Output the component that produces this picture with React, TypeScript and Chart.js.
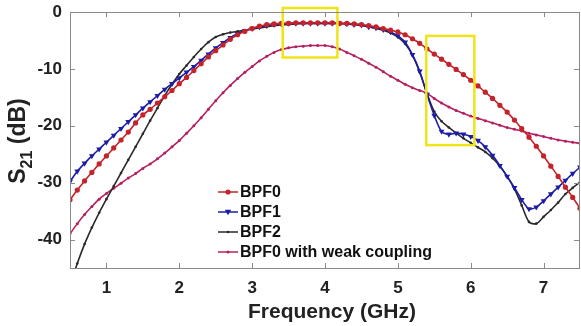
import React, { useEffect, useRef } from "react";
import { Chart, registerables } from "chart.js";
Chart.register(...registerables);

const FREQ = [0.5,0.6,0.7,0.8,0.9,1.0,1.1,1.2,1.3,1.4,1.5,1.6,1.7,1.8,1.9,2.0,2.1,2.2,2.3,2.4,2.5,2.6,2.7,2.8,2.9,3.0,3.1,3.2,3.3,3.4,3.5,3.6,3.7,3.8,3.9,4.0,4.1,4.2,4.3,4.4,4.5,4.6,4.7,4.8,4.9,5.0,5.1,5.2,5.3,5.4,5.5,5.6,5.7,5.8,5.9,6.0,6.1,6.2,6.3,6.4,6.5,6.6,6.7,6.8,6.9,7.0,7.1,7.2,7.3,7.4,7.5];

const BPF0 = [-33.0,-31.3,-29.7,-28.2,-26.7,-25.3,-23.9,-22.5,-21.1,-19.5,-18.1,-17.1,-16.0,-14.9,-13.8,-12.6,-11.5,-10.3,-9.1,-7.9,-6.8,-5.8,-4.8,-4.0,-3.4,-2.9,-2.5,-2.2,-2.1,-2.0,-2.0,-1.9,-1.9,-1.9,-1.9,-1.9,-1.9,-2.0,-2.0,-2.1,-2.2,-2.4,-2.6,-2.9,-3.2,-3.5,-4.0,-4.7,-5.5,-6.5,-7.4,-8.3,-9.2,-10.1,-11.0,-12.0,-13.0,-14.1,-15.2,-16.4,-17.6,-19.0,-20.5,-22.0,-23.6,-25.3,-27.1,-28.9,-30.8,-32.6,-34.5];

const BPF1 = [-29.8,-28.0,-26.6,-25.3,-24.1,-22.9,-21.7,-20.5,-19.3,-18.1,-16.9,-15.8,-14.7,-13.6,-12.6,-11.6,-10.6,-9.6,-8.5,-7.4,-6.3,-5.4,-4.5,-3.8,-3.3,-2.9,-2.6,-2.4,-2.2,-2.1,-2.0,-2.0,-2.0,-2.0,-2.0,-2.0,-2.0,-2.0,-2.1,-2.2,-2.3,-2.6,-2.8,-3.1,-3.5,-4.2,-5.3,-7.5,-10.4,-14.5,-18.2,-21.0,-21.5,-21.3,-21.5,-21.9,-22.6,-23.7,-25.2,-27.0,-28.9,-30.9,-33.0,-34.6,-34.3,-33.2,-32.0,-30.8,-29.6,-28.4,-27.3];

const BPF2 = [-48.0,-44.2,-40.8,-37.9,-35.3,-32.9,-30.6,-28.3,-26.0,-23.7,-21.4,-19.1,-16.9,-14.7,-12.7,-10.9,-9.4,-7.9,-6.5,-5.3,-4.4,-3.9,-3.6,-3.4,-3.2,-3.0,-2.8,-2.6,-2.4,-2.3,-2.2,-2.1,-2.0,-2.0,-2.0,-2.0,-2.0,-2.0,-2.1,-2.2,-2.4,-2.6,-2.9,-3.2,-3.7,-4.4,-5.6,-7.6,-10.6,-14.3,-17.5,-19.2,-20.3,-21.3,-22.2,-23.0,-23.8,-24.6,-25.7,-27.1,-28.9,-31.1,-34.0,-36.9,-37.2,-36.0,-34.8,-33.5,-32.0,-30.9,-29.9];

const BPF0_WEAK = [-39.0,-37.2,-35.6,-34.2,-32.9,-31.9,-31.0,-30.1,-29.2,-28.4,-27.5,-26.7,-25.8,-24.8,-23.7,-22.6,-21.3,-20.0,-18.6,-17.1,-15.6,-14.2,-12.9,-11.7,-10.6,-9.6,-8.6,-7.8,-7.1,-6.6,-6.3,-6.1,-6.0,-5.9,-5.9,-5.9,-6.1,-6.5,-7.1,-7.7,-8.3,-9.0,-9.7,-10.5,-11.3,-12.0,-12.7,-13.3,-13.8,-14.3,-15.2,-16.0,-16.7,-17.3,-17.8,-18.3,-18.7,-19.1,-19.5,-19.9,-20.3,-20.6,-20.9,-21.3,-21.6,-21.9,-22.2,-22.5,-22.7,-22.9,-23.1];

const X_TICKS = [1, 2, 3, 4, 5, 6, 7];
const Y_TICKS = [-40, -30, -20, -10, 0];
const SERIES_LABELS = ["BPF0", "BPF1", "BPF2", "BPF0 with weak coupling"];
const X_TITLE = "Frequency (GHz)";

// highlight boxes in data coordinates
const HIGHLIGHT_F_LEFT = [3.42, 5.39];
const HIGHLIGHT_F_RIGHT = [4.17, 6.05];
const HIGHLIGHT_DB_TOP = [0.7, -4.2];
const HIGHLIGHT_DB_BOTTOM = [-8.0, -23.4];

const FONT_FAMILY = '"Liberation Sans", Arial, sans-serif';
const COLORS = ["#c3232a", "#1c1ca6", "#2a2a2a", "#b42060"];
const POINT_STYLES = ["circle", "triangle", "circle", "circle"];
const POINT_RADII = [2.6, 3.4, 1.3, 1.5];
const POINT_ROT = [0, 180, 0, 0];

const toPoints = (ys: number[]) => FREQ.map((f, i) => ({ x: f, y: ys[i] }));

const framePlugin = {
  id: "frame",
  afterDraw(chart: any) {
    const { ctx, chartArea: a, scales } = chart;
    const xs = scales.x, ys = scales.y;
    ctx.save();
    ctx.strokeStyle = "#f0e418";
    ctx.lineWidth = 2.5;
    for (let i = 0; i < HIGHLIGHT_F_LEFT.length; i++) {
      const x0 = xs.getPixelForValue(HIGHLIGHT_F_LEFT[i]);
      const x1 = xs.getPixelForValue(HIGHLIGHT_F_RIGHT[i]);
      const y0 = ys.getPixelForValue(HIGHLIGHT_DB_TOP[i]);
      const y1 = ys.getPixelForValue(HIGHLIGHT_DB_BOTTOM[i]);
      ctx.strokeRect(x0, y0, x1 - x0, y1 - y0);
    }
    ctx.strokeStyle = "#8a8a8a";
    ctx.lineWidth = 1;
    ctx.strokeRect(Math.round(a.left) + 0.5, Math.round(a.top) + 0.5, Math.round(a.right - a.left) - 1, Math.round(a.bottom - a.top));
    ctx.beginPath();
    const tl = 5;
    X_TICKS.forEach((v) => {
      const x = Math.round(xs.getPixelForValue(v)) + 0.5;
      ctx.moveTo(x, a.bottom); ctx.lineTo(x, a.bottom - tl);
      ctx.moveTo(x, a.top); ctx.lineTo(x, a.top + tl);
    });
    Y_TICKS.forEach((v) => {
      const y = Math.round(ys.getPixelForValue(v)) + 0.5;
      ctx.moveTo(a.left, y); ctx.lineTo(a.left + tl, y);
      ctx.moveTo(a.right - 1, y); ctx.lineTo(a.right - 1 - tl, y);
    });
    ctx.stroke();

    // legend
    const lx0 = 218, lx1 = 238, tx = 240;
    const rowY = [192, 212, 232, 252];
    ctx.font = `bold 16px ${FONT_FAMILY}`;
    ctx.textBaseline = "middle";
    ctx.textAlign = "left";
    SERIES_LABELS.forEach((lab, i) => {
      const y = rowY[i];
      ctx.strokeStyle = COLORS[i];
      ctx.fillStyle = COLORS[i];
      ctx.lineWidth = 1.5;
      ctx.beginPath(); ctx.moveTo(lx0, y); ctx.lineTo(lx1, y); ctx.stroke();
      const cx = (lx0 + lx1) / 2;
      if (POINT_STYLES[i] === "triangle") {
        ctx.beginPath();
        ctx.moveTo(cx - 3.2, y - 2.2); ctx.lineTo(cx + 3.2, y - 2.2); ctx.lineTo(cx, y + 3.2); ctx.closePath(); ctx.fill();
      } else {
        ctx.beginPath(); ctx.arc(cx, y, POINT_RADII[i], 0, Math.PI * 2); ctx.fill();
      }
      ctx.fillStyle = "#111";
      ctx.fillText(lab, tx, y + 1);
    });

    // x title
    ctx.fillStyle = "#222";
    ctx.font = `bold 21px ${FONT_FAMILY}`;
    ctx.textAlign = "center";
    ctx.textBaseline = "alphabetic";
    ctx.fillText(X_TITLE, 332, 318);

    // y title with subscript
    ctx.translate(25, 141);
    ctx.rotate(-Math.PI / 2);
    const big = `bold 23px ${FONT_FAMILY}`;
    const small = `bold 16px ${FONT_FAMILY}`;
    ctx.font = big; const wS = ctx.measureText("S").width;
    ctx.font = small; const w21 = ctx.measureText("21").width;
    ctx.font = big; const wRest = ctx.measureText(" (dB)").width;
    let x = -(wS + w21 + wRest) / 2;
    ctx.textAlign = "left";
    ctx.font = big; ctx.fillText("S", x, 0); x += wS;
    ctx.font = small; ctx.fillText("21", x, 7); x += w21;
    ctx.font = big; ctx.fillText(" (dB)", x, 0);
    ctx.restore();
  },
};

export default function App() {
  const ref = useRef<HTMLCanvasElement>(null);
  useEffect(() => {
    if (!ref.current) return;
    const seriesValues = [BPF0, BPF1, BPF2, BPF0_WEAK];
    const chart = new Chart(ref.current, {
      type: "line",
      data: {
        datasets: seriesValues.map((vals, i) => ({
          label: SERIES_LABELS[i],
          data: toPoints(vals),
          borderColor: COLORS[i],
          backgroundColor: COLORS[i],
          borderWidth: 1.6,
          pointStyle: POINT_STYLES[i] as any,
          pointRadius: POINT_RADII[i],
          pointRotation: POINT_ROT[i],
          pointBorderWidth: 0,
          pointBackgroundColor: COLORS[i],
          tension: 0.3,
          fill: false,
        })),
      },
      options: {
        animation: false,
        responsive: false,
        maintainAspectRatio: false,
        devicePixelRatio: 1,
        layout: { padding: { left: 0, right: 1, top: 12, bottom: 0 } },
        plugins: { legend: { display: false }, tooltip: { enabled: false } },
        scales: {
          x: {
            type: "linear",
            min: 0.5,
            max: 7.5,
            afterBuildTicks: (s: any) => { s.ticks = X_TICKS.map((v) => ({ value: v })); },
            afterFit: (s: any) => { s.height = 58; s.paddingLeft = 0; s.paddingRight = 0; s.paddingTop = 0; s.paddingBottom = 0; },
            grid: { display: false, drawTicks: false },
            border: { display: false },
            ticks: { padding: 10, color: "#222", autoSkip: false, maxRotation: 0, font: { family: FONT_FAMILY, size: 17, weight: "bold" }, callback: (v: any) => String(v) },
          },
          y: {
            type: "linear",
            min: -45,
            max: 0,
            afterBuildTicks: (s: any) => { s.ticks = Y_TICKS.map((v) => ({ value: v })); },
            afterFit: (s: any) => { s.width = 70; s.paddingLeft = 0; s.paddingRight = 0; s.paddingTop = 0; s.paddingBottom = 0; },
            grid: { display: false, drawTicks: false },
            border: { display: false },
            ticks: { padding: 8, color: "#222", autoSkip: false, font: { family: FONT_FAMILY, size: 17, weight: "bold" }, callback: (v: any) => String(v) },
          },
        },
      },
      plugins: [framePlugin],
    });
    return () => chart.destroy();
  }, []);
  return (
    <div style={{ position: "fixed", left: 0, top: 0, width: 581, height: 326, overflow: "hidden", background: "#fff" }}>
      <canvas ref={ref} width={584} height={326} style={{ display: "block", width: 584, height: 326 }} />
    </div>
  );
}
